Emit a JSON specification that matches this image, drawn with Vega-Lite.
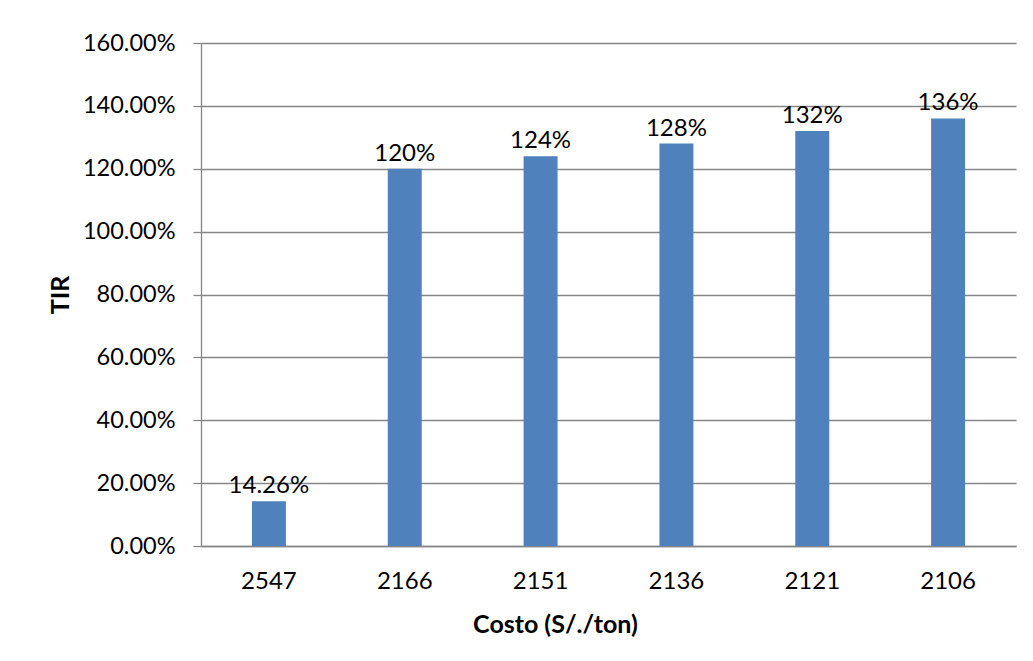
{
  "$schema": "https://vega.github.io/schema/vega-lite/v6.json",
  "autosize": {"type": "none"},
  "width": 815,
  "height": 503,
  "padding": {"left": 201, "top": 43, "right": 17, "bottom": 115},
  "background": "white",
  "config": {
    "view": {"stroke": null},
    "font": "Lato",
    "axis": {
      "labelFont": "Lato",
      "labelFontSize": 23.5,
      "labelColor": "#000000",
      "titleFont": "Lato",
      "titleFontSize": 25,
      "titleFontWeight": "bold",
      "titleColor": "#000000",
      "domainColor": "#868686",
      "domainWidth": 1.3,
      "tickColor": "#868686",
      "tickWidth": 1.3,
      "gridColor": "#868686",
      "gridWidth": 1.3
    }
  },
  "data": {
    "values": [
      {"costo": "2547", "tir": 0.1426, "etiqueta": "14.26%"},
      {"costo": "2166", "tir": 1.20, "etiqueta": "120%"},
      {"costo": "2151", "tir": 1.24, "etiqueta": "124%"},
      {"costo": "2136", "tir": 1.28, "etiqueta": "128%"},
      {"costo": "2121", "tir": 1.32, "etiqueta": "132%"},
      {"costo": "2106", "tir": 1.36, "etiqueta": "136%"}
    ]
  },
  "encoding": {
    "x": {
      "field": "costo",
      "type": "nominal",
      "sort": null,
      "scale": {"paddingInner": 0.75, "paddingOuter": 0.375},
      "axis": {
        "title": "Costo (S/./ton)",
        "labelAngle": 0,
        "labelFontSize": 24,
        "ticks": false,
        "tickSize": 0,
        "labelBaseline": "alphabetic",
        "labelPadding": 42,
        "titleX": 354,
        "titleY": 86,
        "titleAlign": "center",
        "titleBaseline": "alphabetic",
        "grid": false
      }
    },
    "y": {
      "field": "tir",
      "type": "quantitative",
      "scale": {"domain": [0, 1.6], "nice": false},
      "axis": {
        "title": "TIR",
        "format": ".2%",
        "values": [0, 0.2, 0.4, 0.6, 0.8, 1.0, 1.2, 1.4, 1.6],
        "tickSize": 8,
        "labelPadding": 18,
        "labelBaseline": "middle",
        "grid": true,
        "titleX": -141,
        "titleY": 251.5,
        "titleAlign": "center",
        "titleBaseline": "middle",
        "titleAngle": -90
      }
    }
  },
  "layer": [
    {
      "mark": {"type": "bar", "color": "#4F81BD"}
    },
    {
      "mark": {
        "type": "text",
        "font": "Lato",
        "fontSize": 24,
        "color": "#000000",
        "baseline": "alphabetic",
        "dy": -8
      },
      "encoding": {"text": {"field": "etiqueta"}}
    }
  ]
}
